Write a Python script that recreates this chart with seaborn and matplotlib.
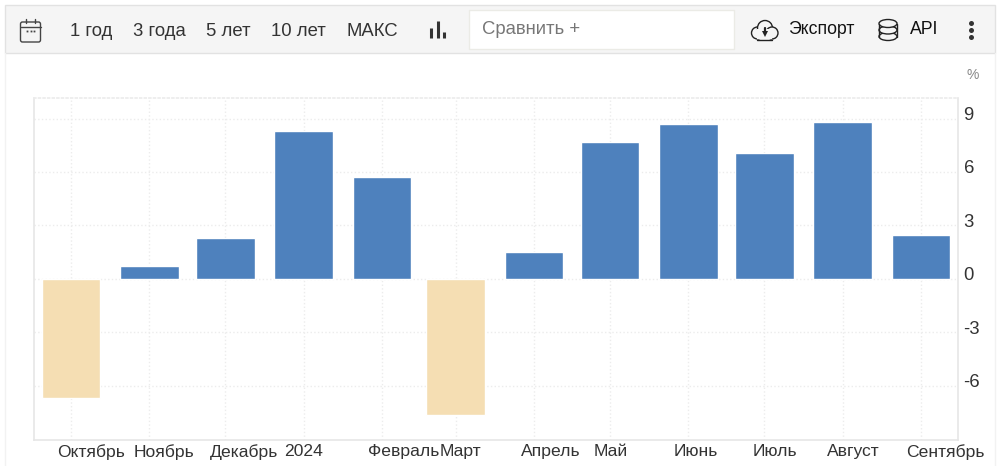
import numpy as np
import pandas as pd
import matplotlib
matplotlib.use('Agg')
import matplotlib.pyplot as plt
import matplotlib.dates as mdates
from matplotlib.patches import Rectangle, FancyBboxPatch, Ellipse, Circle
from matplotlib.transforms import ScaledTranslation
import seaborn as sns

months = ['2023-10-01', '2023-11-01', '2023-12-01', '2024-01-01', '2024-02-01', '2024-03-01',
          '2024-04-01', '2024-05-01', '2024-06-01', '2024-07-01', '2024-08-01', '2024-09-01']
values = [-6.7, 0.75, 2.3, 8.3, 5.7, -7.6, 1.5, 7.7, 8.7, 7.05, 8.8, 2.45]
x_labels = ['Октябрь', 'Ноябрь', 'Декабрь', '2024', 'Февраль', 'Март',
            'Апрель', 'Май', 'Июнь', 'Июль', 'Август', 'Сентябрь']
# how far each month label sits right of its tick, in pixels
label_shift = [20, 15, 19, 0, 22, 5, 17, 1, 8, 11, 11, 24]
y_ticks = [-6, -3, 0, 3, 6, 9]
range_buttons = [('1 год', 70), ('3 года', 133), ('5 лет', 206), ('10 лет', 271), ('МАКС', 346)]

sns.set_theme(style='white')
plt.rcParams['font.family'] = ['Liberation Sans', 'DejaVu Sans']
plt.rcParams['axes.unicode_minus'] = False

fig = plt.figure(figsize=(10, 4.66), dpi=100)

# toolbar and icons drawn in pixel coordinates
ui = fig.add_axes([0, 0, 1, 1])
ui.set_xlim(0, 1000)
ui.set_ylim(466, 0)
ui.axis('off')
dark = '#333333'
ui.plot([5, 5], [53, 466], color='#f2f2f2', lw=1)
ui.plot([995, 995], [53, 466], color='#f2f2f2', lw=1)
ui.add_patch(Rectangle((5, 5), 990, 48, fc='#f5f5f5', ec='#e2e2e2', lw=1))
ui.add_patch(Rectangle((469, 10), 265, 39, fc='white', ec='#ebebe6', lw=1))

# calendar
ui.add_patch(FancyBboxPatch((20.5, 22), 20, 20, boxstyle='round,pad=0,rounding_size=2', fc='none', ec='#444444', lw=1))
ui.plot([20.5, 40.5], [26.5, 26.5], color='#444444', lw=1)
ui.plot([26, 26], [19, 23], color='#444444', lw=1)
ui.plot([35, 35], [19, 23], color='#444444', lw=1)
ui.plot([27, 30.5, 34], [31, 31, 31], ls='none', marker='s', ms=1.3, mew=0, color='#444444')

for label, x in range_buttons:
    ui.text(x, 31, label, fontsize=13.3, color=dark, ha='left', va='center')

# bar chart icon
for x, y0 in [(431, 28), (437.5, 21), (444, 32)]:
    ui.plot([x, x], [y0, 38], color='#333333', lw=2.2, solid_capstyle='butt')

ui.text(482, 30, 'Сравнить +', fontsize=13.3, color='#777777', ha='left', va='center')

# cloud
for cx, cy, r in [(757.5, 33, 6), (765, 28, 7.5), (772, 33, 6)]:
    ui.add_patch(Circle((cx, cy), r, fc='#f5f5f5', ec='#222222', lw=1))
ui.add_patch(Rectangle((757, 29), 15, 10, fc='#f5f5f5', ec='none', zorder=3))
ui.plot([757, 772], [39.5, 39.5], color='#222222', lw=1, zorder=4)
ui.plot([764.5, 764.5], [28, 33], color='#222222', lw=1.6, zorder=4)
ui.plot([764.5], [34], marker='v', ms=4.5, mew=0, color='#222222', zorder=4)
ui.text(788, 30, 'Экспорт', fontsize=12.7, color='#111111', ha='left', va='center')

# database
for y in [23.5, 30, 36.5]:
    ui.add_patch(Ellipse((888, y), 18, 8, fc='#f5f5f5', ec='#222222', lw=1, zorder=3 + (40 - y) / 10))
ui.plot([879, 879], [23.5, 36.5], color='#222222', lw=1, zorder=5)
ui.plot([897, 897], [23.5, 36.5], color='#222222', lw=1, zorder=5)
ui.text(910, 30, 'API', fontsize=12.7, color='#111111', ha='left', va='center')

# menu dots
ui.plot([971, 971, 971], [23, 30, 36.5], ls='none', marker='o', ms=3.6, mew=0, color='#333333')

ui.text(973, 75, '%', fontsize=10, color='#888888', ha='center', va='center')

# chart
ax = fig.add_axes([34 / 1000, 1 - 440 / 466, 924 / 1000, 342 / 466])
ax.patch.set_alpha(0)

df = pd.DataFrame({
    'month': mdates.date2num(pd.to_datetime(months)),
    'value': values,
})
df['sign'] = np.where(df['value'] < 0, 'neg', 'pos')

sns.barplot(data=df, x='month', y='value', hue='sign', ax=ax, native_scale=True, dodge=False,
            palette={'pos': '#4e81bd', 'neg': '#f5deb3'}, width=0.8, saturation=1, legend=False, zorder=3)

ax.set_xlim(df['month'].iloc[0] - 14.6, df['month'].iloc[-1] + 14.6)
ax.set_ylim(-9.03, 10.15)
ax.set_xlabel('')
ax.set_ylabel('')

ax.set_xticks(df['month'])
ax.set_xticklabels(x_labels)
ax.set_yticks(y_ticks)
ax.yaxis.tick_right()
ax.tick_params(axis='x', length=0, pad=3, labelsize=12.6, labelcolor=dark)
ax.tick_params(axis='y', length=0, pad=4, labelsize=13.3, labelcolor=dark)
ax.grid(True, color='#ececec', lw=1, ls=':', zorder=0)
ax.set_axisbelow(True)

for label, shift in zip(ax.get_xticklabels(), label_shift):
    label.set_transform(label.get_transform() + ScaledTranslation(shift / 100, 0, fig.dpi_scale_trans))
for label in ax.get_yticklabels():
    label.set_transform(label.get_transform() + ScaledTranslation(0, 5 / 100, fig.dpi_scale_trans))

for side in ['left', 'bottom', 'right']:
    ax.spines[side].set_color('#e6e6e6')
    ax.spines[side].set_linewidth(1.2)
ax.spines['top'].set_color('#ececec')
ax.spines['top'].set_linestyle(':')

fig.savefig('out.png', dpi=100)
